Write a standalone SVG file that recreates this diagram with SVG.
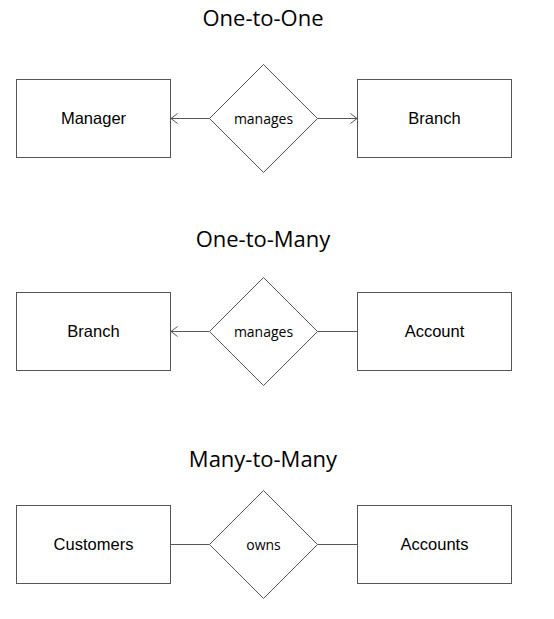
<svg xmlns="http://www.w3.org/2000/svg" width="554" height="619" viewBox="0 0 554 619">
<defs>
<style>
.ent{fill:#fff;stroke:#555;stroke-width:1}
.rel{fill:#fff;stroke:#555;stroke-width:1}
.conn{stroke:#555;stroke-width:1;fill:none}
.et{font-family:"Liberation Sans",Arial,sans-serif;font-size:16.5px;fill:#000;text-anchor:middle}
.rt{font-family:"Open Sans","Noto Sans",sans-serif;font-size:14px;fill:#000;text-anchor:middle}
.title{font-family:"Open Sans","Noto Sans",sans-serif;font-size:22px;fill:#000;text-anchor:middle}
</style>
<marker id="arr" viewBox="0 0 10 12" refX="7" refY="6" markerWidth="10" markerHeight="12" markerUnits="userSpaceOnUse" orient="auto">
<path d="M0.5,1 L7,6 L0.5,11" fill="none" stroke="#555" stroke-width="1"/>
</marker>
</defs>
<rect width="554" height="619" fill="#fff"/>

<g id="titles">
<text class="title" x="263" y="26">One-to-One</text>
<text class="title" x="263" y="247">One-to-Many</text>
<text class="title" x="263" y="467">Many-to-Many</text>
</g>

<g id="connectors">
<line class="conn" x1="209.5" y1="118.5" x2="171" y2="118.5" marker-end="url(#arr)"/>
<line class="conn" x1="317.5" y1="118.5" x2="357" y2="118.5" marker-end="url(#arr)"/>
<line class="conn" x1="209.5" y1="331.5" x2="171" y2="331.5" marker-end="url(#arr)"/>
<line class="conn" x1="317.5" y1="331.5" x2="357" y2="331.5"/>
<line class="conn" x1="171" y1="544.5" x2="209.5" y2="544.5"/>
<line class="conn" x1="317.5" y1="544.5" x2="357" y2="544.5"/>
</g>

<g id="manager1">
<rect class="ent" x="16.5" y="79.5" width="154" height="78"/>
<text class="et" x="93.5" y="124">Manager</text>
</g>
<g id="manages1">
<polygon class="rel" points="263.5,64.5 317.5,118.5 263.5,172.5 209.5,118.5"/>
<text class="rt" x="263.5" y="123.5">manages</text>
</g>
<g id="branch1">
<rect class="ent" x="357.5" y="79.5" width="154" height="78"/>
<text class="et" x="434.5" y="124">Branch</text>
</g>

<g id="branch2">
<rect class="ent" x="16.5" y="292.5" width="154" height="78"/>
<text class="et" x="93.5" y="337">Branch</text>
</g>
<g id="manages2">
<polygon class="rel" points="263.5,277.5 317.5,331.5 263.5,385.5 209.5,331.5"/>
<text class="rt" x="263.5" y="336.5">manages</text>
</g>
<g id="account">
<rect class="ent" x="357.5" y="292.5" width="154" height="78"/>
<text class="et" x="434.5" y="337">Account</text>
</g>

<g id="customers">
<rect class="ent" x="16.5" y="505.5" width="154" height="78"/>
<text class="et" x="93.5" y="550">Customers</text>
</g>
<g id="owns">
<polygon class="rel" points="263.5,490.5 317.5,544.5 263.5,598.5 209.5,544.5"/>
<text class="rt" x="263.5" y="549.5">owns</text>
</g>
<g id="accounts">
<rect class="ent" x="357.5" y="505.5" width="154" height="78"/>
<text class="et" x="434.5" y="550">Accounts</text>
</g>
</svg>
